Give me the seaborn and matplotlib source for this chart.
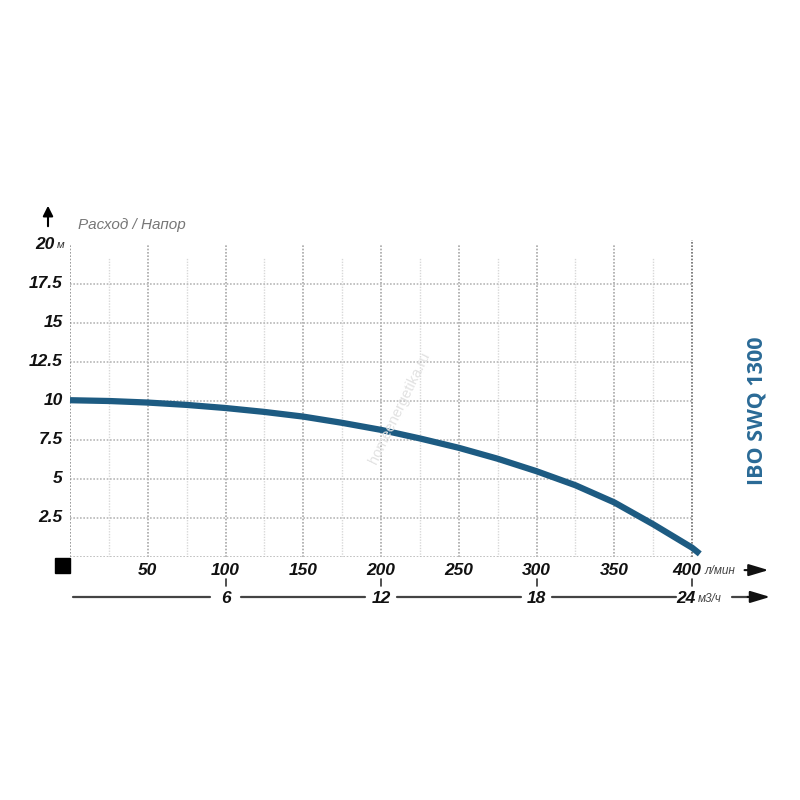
import matplotlib
matplotlib.use("Agg")
import matplotlib.pyplot as plt
import matplotlib.transforms as mtransforms
import pandas as pd
import seaborn as sns

# Pump curve: flow (l/min) -> head (m)
flow = [0, 25, 50, 75, 100, 125, 150, 175, 200, 225, 250, 275, 300, 325, 350, 375, 400, 405]
head = [10.05, 10.0, 9.9, 9.75, 9.55, 9.3, 9.0, 8.6, 8.15, 7.6, 7.0, 6.3, 5.5, 4.6, 3.5, 2.1, 0.6, 0.2]

x_ticks = [50, 100, 150, 200, 250, 300, 350, 400]
y_ticks = [2.5, 5, 7.5, 10, 12.5, 15, 17.5, 20]
y_labels = ["2.5", "5", "7.5", "10", "12.5", "15", "17.5", "20"]
m3h_ticks = [6, 12, 18, 24]

title = "IBO SWQ 1300"
curve_color = "#1d5b82"

df = pd.DataFrame({"flow": flow, "head": head})

sns.set_theme(style="white")
plt.rcParams["font.family"] = ["Liberation Sans", "DejaVu Sans"]

fig = plt.figure(figsize=(8, 8), dpi=100)
ax = fig.add_axes([0.0875, 0.30375, 0.7775, 0.39])

# grid: minor vertical, major vertical, horizontal
for xv in range(25, 400, 50):
    ax.axvline(xv, ymax=0.96, color="#d8d8d8", lw=1.0, ls=(0, (1, 1)), zorder=1)
for xv in range(50, 400, 50):
    ax.axvline(xv, color="#a8a8a8", lw=1.2, ls=(0, (1, 1)), zorder=1)
for yv in [0, 2.5, 5, 7.5, 10, 12.5, 15, 17.5]:
    ax.axhline(yv, color="#b8b8b8", lw=1.2, ls=(0, (1, 1)), zorder=1)
ax.axvline(0, color="#8a8a8a", lw=1.2, ls=(0, (1, 1)), zorder=1)
ax.axvline(400, ymax=1.015, color="#6a6a6a", lw=1.2, ls=(0, (1, 1)), zorder=1, clip_on=False)

sns.lineplot(data=df, x="flow", y="head", ax=ax, color=curve_color, lw=4.5,
             zorder=3, clip_on=False, solid_capstyle="butt")

ax.set_xlim(0, 400)
ax.set_ylim(0, 20)
for s in ax.spines.values():
    s.set_visible(False)
ax.set_xlabel("")
ax.set_ylabel("")
ax.set_xticks([])
ax.set_yticks([])

tick_font = dict(fontsize=12.5, fontweight="bold", fontstyle="italic", color="#111111")
trans_x = mtransforms.blended_transform_factory(ax.transData, ax.transAxes)
trans_y = mtransforms.blended_transform_factory(ax.transAxes, ax.transData)

# y tick labels
for yv, lab in zip(y_ticks, y_labels):
    ax.text(-0.012 if yv != 20 else -0.025, yv, lab, transform=trans_y,
            ha="right", va="center", **tick_font)
ax.text(-0.022, 20, "м", transform=trans_y, ha="left", va="center",
        fontsize=8, fontstyle="italic", color="#333333")

# first x row (l/min)
for xv in x_ticks:
    if xv == 400:
        ax.text(xv + 6, -0.042, str(xv), transform=trans_x, ha="right", va="center", **tick_font)
    else:
        ax.text(xv, -0.042, str(xv), transform=trans_x, ha="center", va="center", **tick_font)
ax.text(408, -0.045, "л/мин", transform=trans_x, ha="left", va="center",
        fontsize=8.5, fontstyle="italic", color="#444444")
ax.annotate("", xy=(451, -0.042), xytext=(432, -0.042), xycoords=trans_x, textcoords=trans_x,
            arrowprops=dict(arrowstyle="-|>,head_length=1.0,head_width=0.3", color="#111111", lw=1.5))

# second x row (m3/h)
row2 = -0.128
prev = 2
for m in m3h_ticks:
    xv = m * 1000 / 60
    ax.plot([xv, xv], [-0.072, -0.092], transform=trans_x, color="#333333", lw=1.2, clip_on=False)
    ax.plot([prev, xv - 10], [row2, row2], transform=trans_x, color="#444444", lw=1.6, clip_on=False)
    if m == 24:
        ax.text(xv + 2, row2 - 0.004, str(m), transform=trans_x, ha="right", va="center", **tick_font)
    else:
        ax.text(xv, row2 - 0.004, str(m), transform=trans_x, ha="center", va="center", **tick_font)
    prev = xv + 10
ax.text(404, row2 - 0.006, "м3/ч", transform=trans_x, ha="left", va="center",
        fontsize=8.5, fontstyle="italic", color="#444444")
ax.plot([426, 436], [row2, row2], transform=trans_x, color="#444444", lw=1.6, clip_on=False)
ax.annotate("", xy=(452, row2), xytext=(434, row2), xycoords=trans_x, textcoords=trans_x,
            arrowprops=dict(arrowstyle="-|>,head_length=1.0,head_width=0.3", color="#111111", lw=1.5))

# origin square and y arrow
fig.patches.append(plt.Rectangle((55 / 800, 1 - 573 / 800), 15 / 800, 15 / 800,
                                 transform=fig.transFigure, color="black"))
fig.add_artist(matplotlib.patches.FancyArrowPatch((48 / 800, 1 - 229 / 800), (48 / 800, 1 - 203 / 800),
                                                  transform=fig.transFigure,
                                                  arrowstyle="-|>,head_length=6,head_width=3",
                                                  color="black", lw=1.5))
fig.text(78 / 800, 1 - 225 / 800, "Расход / Напор", ha="left", va="center",
         fontsize=11, fontstyle="italic", color="#777777")

# title on the right
fig.text(757 / 800, 1 - 411 / 800, title, rotation=90, ha="center", va="center",
         fontsize=15.5, fontweight="bold", color="#2a6a96", family="Open Sans")

# watermark
fig.text(400 / 800, 1 - 408 / 800, "homeenergetika.ru", rotation=64, ha="center", va="center",
         fontsize=10.5, color="#e2e2e2", zorder=0)

fig.savefig("out.png", dpi=100)
